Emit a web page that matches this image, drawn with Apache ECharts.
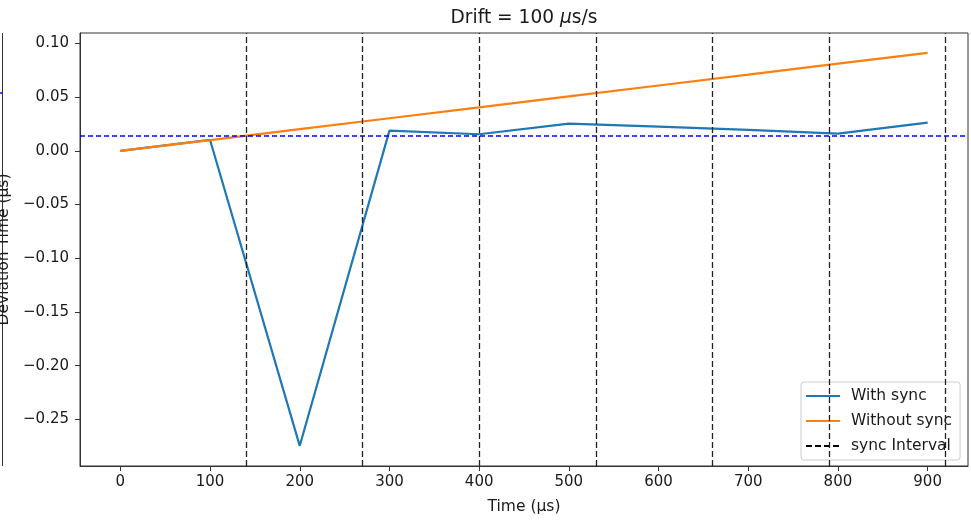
<!DOCTYPE html>
<html>
<head>
<meta charset="utf-8">
<script src="https://cdn.jsdelivr.net/npm/echarts@6/dist/echarts.min.js"></script>
<style>
  html, body { margin: 0; padding: 0; background: #fff; }
  #chart { width: 971px; height: 520px; }
</style>
</head>
<body>
<div id="chart"></div>
<script>
// time axis (µs)
const timeSteps = [0, 100, 200, 300, 400, 500, 600, 700, 800, 900];
// deviation with sync (µs)
const withSync = [0, 0.0102, -0.2747, 0.0189, 0.0155, 0.0254, 0.0226, 0.0196, 0.0160, 0.0264];
// deviation without sync (µs)
const withoutSync = [0, 0.0101, 0.0203, 0.0304, 0.0406, 0.0507, 0.0609, 0.0710, 0.0812, 0.0913];
// sync instants
const syncIntervals = [140, 270, 400, 530, 660, 790, 920];
const threshold = 0.014;

const xTicks = [0, 100, 200, 300, 400, 500, 600, 700, 800, 900];
const yTicks = [-0.25, -0.20, -0.15, -0.10, -0.05, 0, 0.05, 0.10];

const FONT = 'DejaVu Sans';
const fmtY = v => (v < 0 ? '\u2212' : '') + Math.abs(v).toFixed(2);

const chart = echarts.init(document.getElementById('chart'));

chart.setOption({
    animation: false,
    textStyle: { fontFamily: FONT },
    title: {
        text: '{n|Drift = 100 }{i|μ}{n|s/s}',
        left: 519,
        textAlign: 'center',
        top: 4,
        textStyle: {
            fontWeight: 'normal',
            rich: {
                n: { fontFamily: FONT, fontSize: 18.6, fontWeight: 'normal', color: '#1a1a1a' },
                i: { fontFamily: FONT, fontSize: 18.6, fontWeight: 'normal', fontStyle: 'italic', color: '#1a1a1a' }
            }
        }
    },
    legend: {
        orient: 'vertical',
        left: 801,
        top: 382,
        padding: [6, 8, 6, 4],
        itemGap: 9,
        itemWidth: 34,
        itemHeight: 14,
        backgroundColor: 'rgba(255,255,255,0.8)',
        borderColor: '#cccccc',
        borderWidth: 1,
        borderRadius: 3,
        itemStyle: { color: 'rgba(0,0,0,0)', borderColor: 'rgba(0,0,0,0)', borderWidth: 0, opacity: 0 },
        textStyle: { fontFamily: FONT, fontSize: 15.5, color: '#1a1a1a', padding: [0, 0, 0, 6] },
        data: ['With sync', 'Without sync', 'sync Interval']
    },
    grid: {
        left: 80, right: 3, top: 33, bottom: 54,
        outerBoundsMode: 'none',
        containLabel: false,
        show: true, borderColor: '#333', borderWidth: 1, backgroundColor: '#fff'
    },
    xAxis: {
        type: 'value',
        min: -45,
        max: 945,
        name: 'Time (μs)',
        nameLocation: 'middle',
        nameGap: 33,
        nameTextStyle: { fontFamily: FONT, fontSize: 15.5, color: '#1a1a1a' },
        axisLine: { show: true, onZero: false, lineStyle: { color: '#333' } },
        axisTick: { show: true, length: 5, customValues: xTicks, lineStyle: { color: '#333' } },
        axisLabel: { customValues: xTicks, margin: 9, fontFamily: FONT, fontSize: 15, color: '#1a1a1a' },
        splitLine: { show: false }
    },
    yAxis: {
        type: 'value',
        min: -0.2935,
        max: 0.1098,
        name: 'Deviation Time (μs)',
        nameLocation: 'middle',
        nameGap: 64,
        nameTextStyle: { fontFamily: FONT, fontSize: 15.5, color: '#1a1a1a' },
        axisLine: { show: true, onZero: false, lineStyle: { color: '#333' } },
        axisTick: { show: true, length: 5, customValues: yTicks, lineStyle: { color: '#333' } },
        axisLabel: { customValues: yTicks, margin: 11, fontFamily: FONT, fontSize: 15, color: '#1a1a1a', formatter: fmtY },
        splitLine: { show: false }
    },
    graphic: [
        // edge of the neighbouring panel, cropped at the left border
        { type: 'line', shape: { x1: 2.5, y1: 33, x2: 2.5, y2: 466 }, style: { stroke: '#333', lineWidth: 1 } },
        { type: 'line', shape: { x1: 0, y1: 93, x2: 2, y2: 93 }, style: { stroke: '#0000ff', lineWidth: 1.3 } }
    ],
    series: [
        {
            name: 'threshold',
            type: 'line',
            data: [],
            silent: true,
            markLine: {
                silent: true,
                symbol: 'none',
                precision: 4,
                label: { show: false },
                lineStyle: { color: '#0000ff', type: [5, 3], width: 1.5 },
                data: [{ yAxis: threshold }]
            }
        },
        {
            name: 'sync Interval',
            type: 'line',
            data: [],
            color: '#000',
            symbol: 'none',
            lineStyle: { color: '#000', type: [6, 3], width: 1.5 },
            markLine: {
                silent: true,
                symbol: 'none',
                precision: 4,
                label: { show: false },
                lineStyle: { color: '#222', type: [6, 3], width: 1.3 },
                data: syncIntervals.map(x => ({ xAxis: x }))
            }
        },
        {
            name: 'With sync',
            type: 'line',
            data: timeSteps.map((t, i) => [t, withSync[i]]),
            color: '#1f77b4',
            symbol: 'none',
            lineStyle: { color: '#1f77b4', width: 2.2 }
        },
        {
            name: 'Without sync',
            type: 'line',
            data: timeSteps.map((t, i) => [t, withoutSync[i]]),
            color: '#ff7f0e',
            symbol: 'none',
            lineStyle: { color: '#ff7f0e', width: 2.2 }
        }
    ]
});
</script>
</body>
</html>
